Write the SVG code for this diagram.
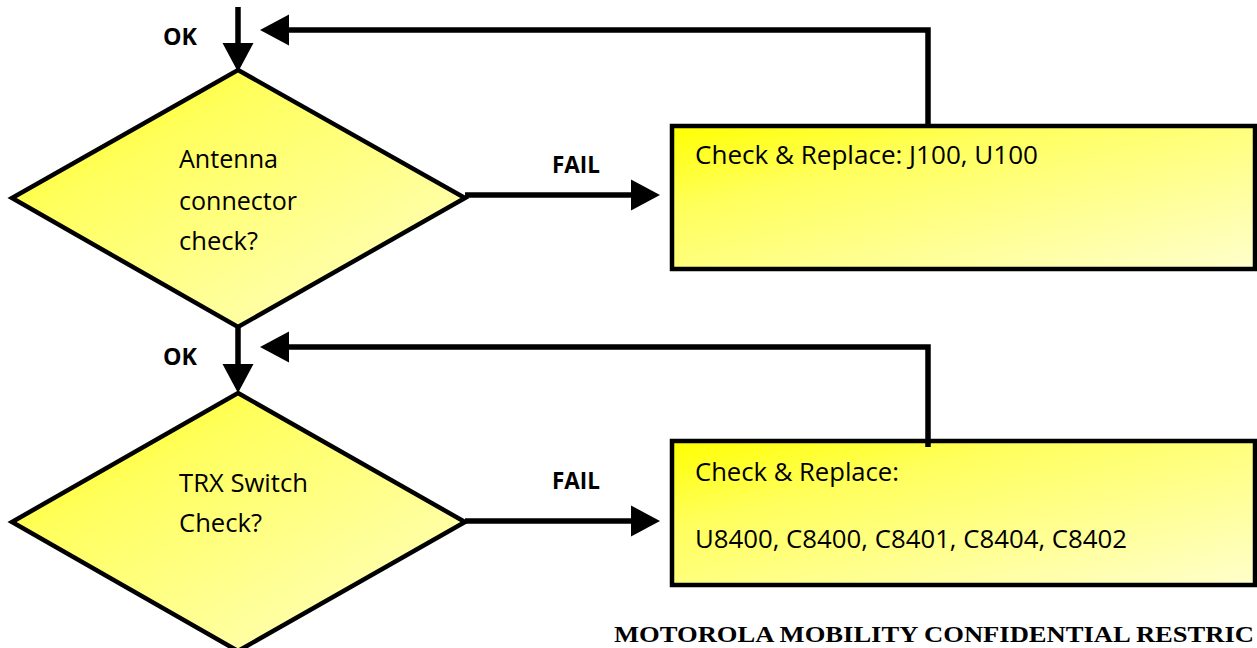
<svg xmlns="http://www.w3.org/2000/svg" width="1257" height="648" viewBox="0 0 1257 648">
  <defs>
    <linearGradient id="yel" x1="0" y1="0" x2="1" y2="1">
      <stop offset="0" stop-color="#ffff00"/>
      <stop offset="0.3" stop-color="#ffff5c"/>
      <stop offset="1" stop-color="#ffffcc"/>
    </linearGradient>
    <marker id="ah" markerUnits="userSpaceOnUse" markerWidth="30" markerHeight="32" refX="0" refY="15.5" orient="auto" overflow="visible">
      <path d="M0,0 L29,15.5 L0,31 Z" fill="#000"/>
    </marker>
    <style>
      .shape { fill: url(#yel); stroke: #000; stroke-width: 4.5; }
      .conn { fill: none; stroke: #000; stroke-width: 5.5; marker-end: url(#ah); }
      .txt { font-family: "Open Sans", "Noto Sans", sans-serif; font-size: 25px; fill: #000; }
      .lbl { font-family: "Open Sans", "Noto Sans", sans-serif; font-size: 23px; font-weight: bold; fill: #000; }
      .foot { font-family: "Liberation Serif", "Times New Roman", serif; font-size: 24px; font-weight: bold; fill: #000; }
    </style>
  </defs>
  <rect width="1257" height="648" fill="#fff"/>

  <g id="decision1">
    <polygon class="shape" points="238,70 465,198 238,327 12,198"/>
    <text class="txt" x="179" y="168" textLength="99" lengthAdjust="spacingAndGlyphs">Antenna</text>
    <text class="txt" x="179" y="210" textLength="118" lengthAdjust="spacingAndGlyphs">connector</text>
    <text class="txt" x="179" y="250" textLength="79" lengthAdjust="spacingAndGlyphs">check?</text>
  </g>

  <g id="box1">
    <rect class="shape" x="672" y="126" width="583" height="143" stroke-width="3.5"/>
    <text class="txt" x="695" y="164" textLength="343" lengthAdjust="spacingAndGlyphs">Check &amp; Replace: J100, U100</text>
  </g>

  <g id="decision2">
    <polygon class="shape" points="238,393 465,522 238,651 12,522"/>
    <text class="txt" x="179" y="492" textLength="129" lengthAdjust="spacingAndGlyphs">TRX Switch</text>
    <text class="txt" x="179" y="532" textLength="83" lengthAdjust="spacingAndGlyphs">Check?</text>
  </g>

  <g id="box2">
    <rect class="shape" x="672" y="441" width="583" height="144" stroke-width="3.5"/>
    <text class="txt" x="695" y="481" textLength="204" lengthAdjust="spacingAndGlyphs">Check &amp; Replace:</text>
    <text class="txt" x="695" y="548" textLength="432" lengthAdjust="spacingAndGlyphs">U8400, C8400, C8401, C8404, C8402</text>
  </g>

  <g id="connectors">
    <path class="conn" d="M238,7 L238,43"/>
    <path class="conn" d="M928,128 L928,30 L289,30"/>
    <path class="conn" d="M465,195 L631,195"/>
    <path class="conn" d="M238,327 L238,364"/>
    <path class="conn" d="M928,447 L928,347 L289,347"/>
    <path class="conn" d="M465,521 L631,521"/>
  </g>

  <g id="labels">
    <text class="lbl" x="163" y="45" textLength="34" lengthAdjust="spacingAndGlyphs">OK</text>
    <text class="lbl" x="552" y="173" textLength="48" lengthAdjust="spacingAndGlyphs">FAIL</text>
    <text class="lbl" x="163" y="365" textLength="34" lengthAdjust="spacingAndGlyphs">OK</text>
    <text class="lbl" x="552" y="489" textLength="48" lengthAdjust="spacingAndGlyphs">FAIL</text>
  </g>

  <text class="foot" x="614" y="642" textLength="640" lengthAdjust="spacingAndGlyphs">MOTOROLA MOBILITY CONFIDENTIAL RESTRIC</text>
</svg>
